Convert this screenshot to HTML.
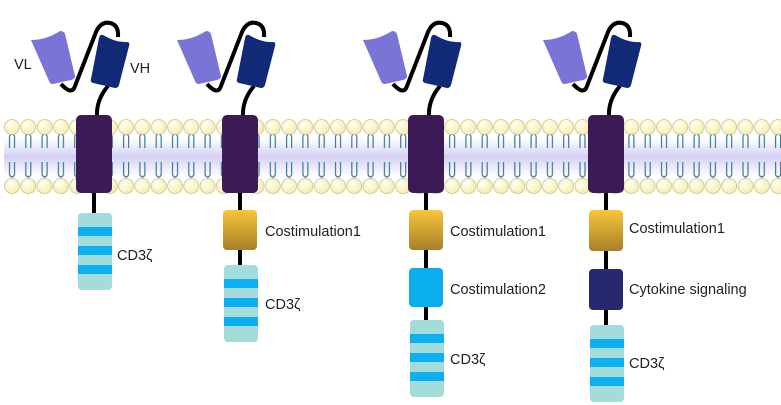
<!DOCTYPE html>
<html><head><meta charset="utf-8"><style>
html,body{margin:0;padding:0;background:#fff;}
svg{display:block}
text{font-family:"Liberation Sans",sans-serif;font-size:14.5px;fill:#222}
</style></head><body>
<svg width="781" height="405" viewBox="0 0 781 405" xmlns="http://www.w3.org/2000/svg">
<defs>
<linearGradient id="band" x1="0" y1="0" x2="0" y2="1">
<stop offset="0" stop-color="#fff"/><stop offset="0.5" stop-color="#d4d0f4"/><stop offset="1" stop-color="#fff"/>
</linearGradient>
<radialGradient id="head" cx="0.35" cy="0.35" r="0.7">
<stop offset="0" stop-color="#fffef0"/><stop offset="1" stop-color="#f3eeb0"/>
</radialGradient>
<linearGradient id="gold" x1="0" y1="0" x2="0" y2="1">
<stop offset="0" stop-color="#f8c63a"/><stop offset="1" stop-color="#a8802a"/>
</linearGradient>
<pattern id="lip" x="4" y="0" width="16.3" height="405" patternUnits="userSpaceOnUse">
<path d="M5.5,136 v12 M10.5,136 v12 M5.5,136 q2.5,-4 5,0 M5.5,162 v13 M10.5,162 v13 M5.5,175 q2.5,4 5,0 M8,128 v6 M8,178 v6" stroke="#3a7a98" stroke-width="1.2" fill="none"/>
<circle cx="8" cy="127" r="7.5" fill="url(#head)" stroke="#c9c38a" stroke-width="0.8"/>
<circle cx="8" cy="186" r="7.5" fill="url(#head)" stroke="#c9c38a" stroke-width="0.8"/>
</pattern>
<g id="scfv">
<path d="M-33,84 Q-22,96 -19,86 L2,32 Q7,21 16,23 Q25,25 24,37" stroke="#000" stroke-width="4" fill="none"/>
<path d="M14,86 Q2,100 3,117" stroke="#000" stroke-width="4" fill="none"/>
<path d="M-63,40 Q-48,40 -34,31 Q-30,31 -29,34 L-19,76 Q-19,79 -23,80 L-41,84 Q-44,84 -45,81 Z" fill="#7a74d6"/>
<path d="M9,35 Q22,43 34,42 Q36,43 35,46 L25,85 Q24,88 21,88 L-1,83 Q-4,82 -3,79 L5,38 Q6,34 9,35 Z" fill="#102a78"/>
</g>
<g id="cd3">
<rect x="-17" y="0" width="34" height="77" rx="4" fill="#a4dcdc"/>
<rect x="-17" y="14" width="34" height="9" fill="#0eaff0"/>
<rect x="-17" y="33" width="34" height="9" fill="#0eaff0"/>
<rect x="-17" y="52" width="34" height="9" fill="#0eaff0"/>
</g>
</defs>
<rect x="4" y="138" width="777" height="38" fill="url(#band)"/>
<rect x="4" y="112" width="777" height="84" fill="url(#lip)"/>

<g transform="translate(94,0)">
<path d="M0,190 V215" stroke="#000" stroke-width="4"/>
<use href="#scfv"/>
<rect x="-18" y="115" width="36" height="78" rx="5" fill="#3d1a55"/>
<use href="#cd3" transform="translate(1,213)"/>
</g>
<text x="117" y="260">CD3ζ</text>
<text x="14" y="69">VL</text>
<text x="130" y="73">VH</text>

<g transform="translate(240,0)">
<path d="M0,190 V268" stroke="#000" stroke-width="4"/>
<use href="#scfv"/>
<rect x="-18" y="115" width="36" height="78" rx="5" fill="#3d1a55"/>
<rect x="-17" y="210" width="34" height="40" rx="4" fill="url(#gold)"/>
<use href="#cd3" transform="translate(1,265)"/>
</g>
<text x="265" y="236">Costimulation1</text>
<text x="265" y="309">CD3ζ</text>

<g transform="translate(426,0)">
<path d="M0,190 V322" stroke="#000" stroke-width="4"/>
<use href="#scfv"/>
<rect x="-18" y="115" width="36" height="78" rx="5" fill="#3d1a55"/>
<rect x="-17" y="210" width="34" height="40" rx="4" fill="url(#gold)"/>
<rect x="-17" y="268" width="34" height="39" rx="4" fill="#0aaeee"/>
<use href="#cd3" transform="translate(1,320)"/>
</g>
<text x="450" y="236">Costimulation1</text>
<text x="450" y="294">Costimulation2</text>
<text x="450" y="364">CD3ζ</text>

<g transform="translate(606,0)">
<path d="M0,190 V327" stroke="#000" stroke-width="4"/>
<use href="#scfv"/>
<rect x="-18" y="115" width="36" height="78" rx="5" fill="#3d1a55"/>
<rect x="-17" y="210" width="34" height="41" rx="4" fill="url(#gold)"/>
<rect x="-17" y="269" width="34" height="41" rx="4" fill="#282870"/>
<use href="#cd3" transform="translate(1,325)"/>
</g>
<text x="629" y="233">Costimulation1</text>
<text x="629" y="294">Cytokine signaling</text>
<text x="629" y="368">CD3ζ</text>
</svg>
</body></html>
